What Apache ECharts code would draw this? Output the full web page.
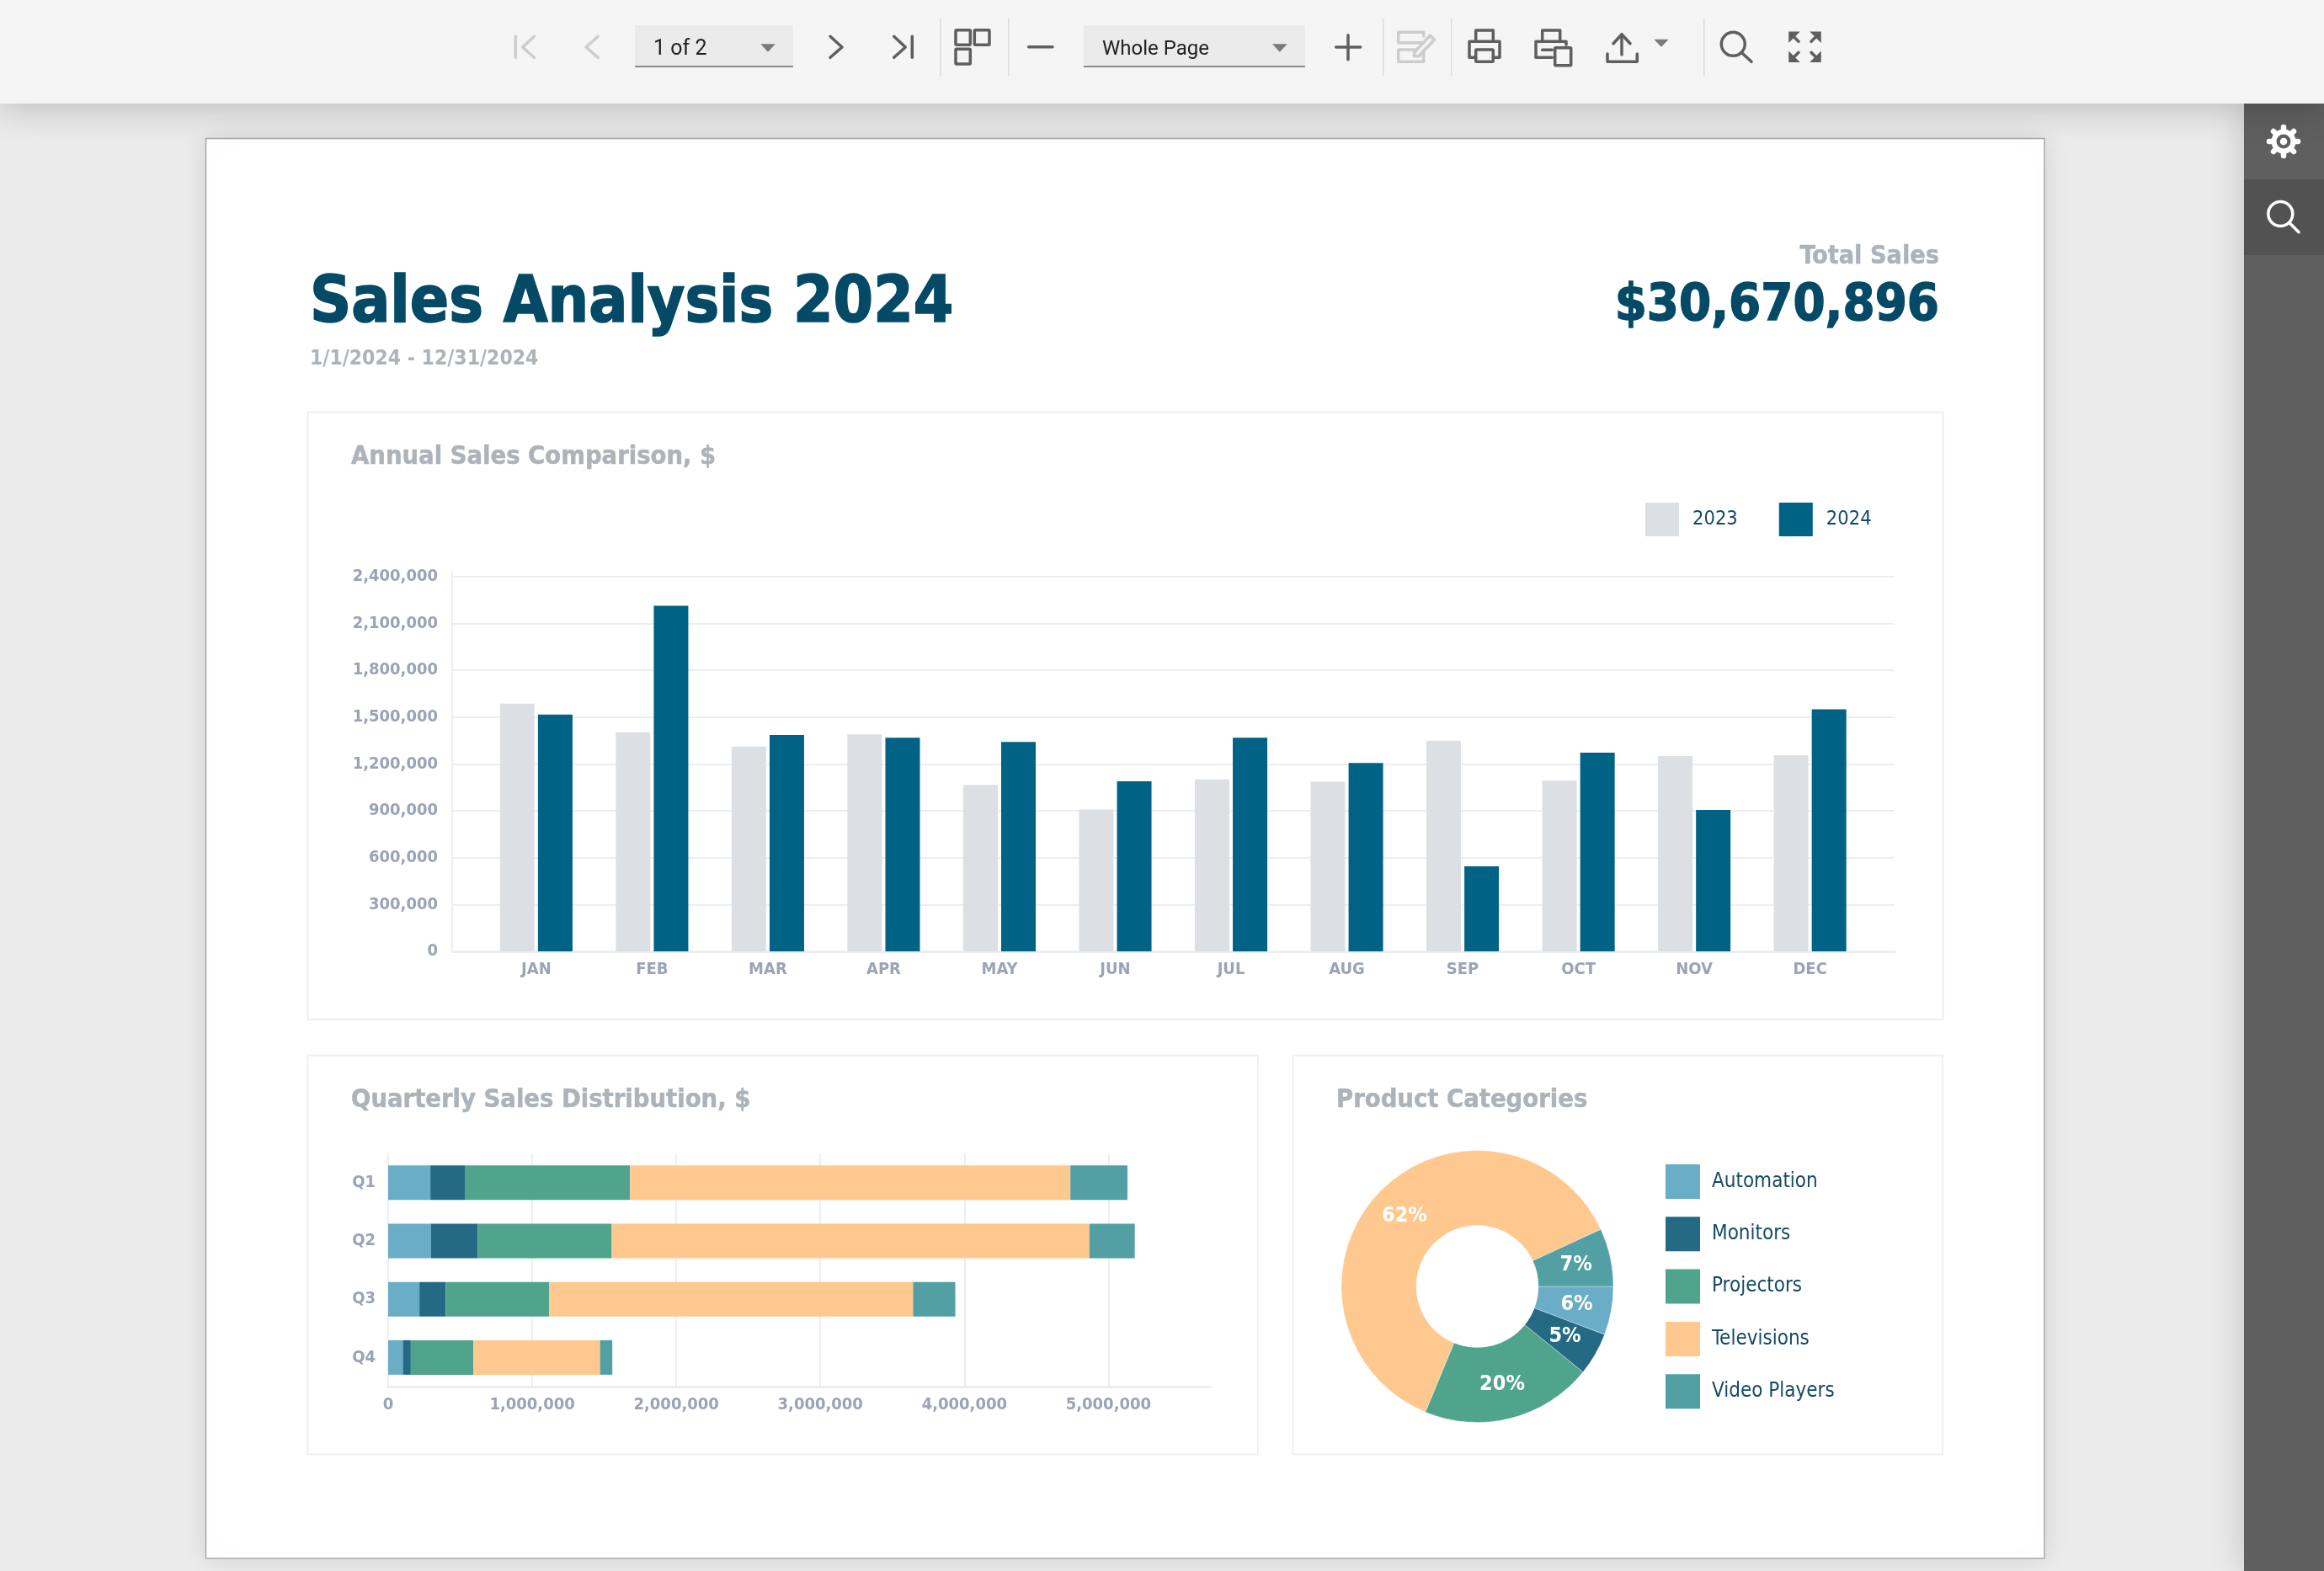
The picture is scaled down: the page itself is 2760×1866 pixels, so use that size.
<!DOCTYPE html>
<html>
<head>
<meta charset="utf-8">
<title>Sales Analysis 2024</title>
<script src="https://cdn.jsdelivr.net/npm/echarts@6/dist/echarts.min.js"></script>
<style>
	html, body { margin: 0; padding: 0; background: #ebebeb; }
	#main { width: 2760px; height: 1866px; }
</style>
</head>
<body>
<div id="main"></div>
<script>
var months = ['JAN', 'FEB', 'MAR', 'APR', 'MAY', 'JUN', 'JUL', 'AUG', 'SEP', 'OCT', 'NOV', 'DEC'];
var sales2023 = [1587000, 1404000, 1312000, 1390000, 1066000, 908000, 1102000, 1086000, 1350000, 1093000, 1251000, 1257000];
var sales2024 = [1517000, 2213000, 1386000, 1368000, 1341000, 1089000, 1368000, 1206000, 545000, 1273000, 906000, 1551000];

var quarters = ['Q1', 'Q2', 'Q3', 'Q4'];
var automation = [293000, 298000, 217000, 102000];
var monitors = [243000, 323000, 183000, 55000];
var projectors = [1143000, 931000, 718000, 434000];
var televisions = [3057000, 3316000, 2526000, 880000];
var videoPlayers = [396000, 315000, 293000, 85000];

var categories = ['Automation', 'Monitors', 'Projectors', 'Televisions', 'Video Players'];
var categoryTotals = [910000, 804000, 3226000, 9779000, 1089000];
var categoryColors = ['#6aadc6', '#246a85', '#51a48c', '#fec88f', '#52a0a3'];

var FONT = '"DejaVu Sans Condensed", "DejaVu Sans", sans-serif';
var UI_FONT = 'Roboto, sans-serif';
var DARK = '#044a66';
var MUTED = '#adb3ba';
var TICK = '#9ba3b5';
var RULE = '#eceef2';
var ICON = '#5f5f5f';
var OFF = '#cdcdcd';

function thousands(v) {
	return String(v).replace(/\B(?=(\d{3})+$)/g, ',');
}

// page chrome helpers, all of it goes into the graphic component
function box(x, y, w, h, fill, extra) {
	var style = { fill: fill };
	for (var k in extra) style[k] = extra[k];
	return { type: 'rect', silent: true, z: -5, shape: { x: x, y: y, width: w, height: h }, style: style };
}
function stroke(points, color, width) {
	return {
		type: 'polyline', silent: true, z: -1, shape: { points: points },
		style: { stroke: color, lineWidth: width || 3.5, fill: null, lineCap: 'round', lineJoin: 'round' }
	};
}
function frame(x, y, w, h, color, width) {
	return {
		type: 'rect', silent: true, z: -1, shape: { x: x, y: y, width: w, height: h, r: 1 },
		style: { stroke: color, lineWidth: width || 3.5, fill: null }
	};
}
function tri(x1, x2, y, tipY) {
	return {
		type: 'polygon', silent: true, z: -1,
		shape: { points: [[x1, y], [x2, y], [(x1 + x2) / 2, tipY]] },
		style: { fill: '#7a7a7a' }
	};
}
function label(text, x, y, size, color, weight, align, family, heavy) {
	var style = {
		text: text, x: x, y: y, fill: color,
		font: (weight || 'normal') + ' ' + size + 'px ' + (family || FONT),
		align: align || 'left', verticalAlign: 'middle'
	};
	// the condensed bold is a little lighter than the original face
	if (heavy) {
		style.stroke = color;
		style.lineWidth = heavy;
	}
	return { type: 'text', silent: true, z: -1, style: style };
}
function magnifier(cx, cy, r, hx, hy, color) {
	return [
		{ type: 'circle', silent: true, z: -1, shape: { cx: cx, cy: cy, r: r }, style: { stroke: color, lineWidth: 3.5, fill: null } },
		stroke([[cx + r * 0.76, cy + r * 0.76], [hx, hy]], color, 3.5)
	];
}
function fullscreenCorner(cornerX, cornerY, dx, dy) {
	return [
		{
			type: 'polygon', silent: true, z: -1,
			shape: { points: [[cornerX, cornerY], [cornerX + dx * 11, cornerY], [cornerX, cornerY + dy * 11]] },
			style: { fill: ICON, stroke: ICON, lineWidth: 1.5 }
		},
		stroke([[cornerX + dx * 3, cornerY + dy * 3], [cornerX + dx * 11, cornerY + dy * 11]], ICON, 3.5)
	];
}
function gear(cx, cy) {
	var parts = [];
	for (var i = 0; i < 8; i++) {
		var a = i * Math.PI / 4;
		parts.push(stroke([[cx + 12 * Math.cos(a), cy + 12 * Math.sin(a)], [cx + 17 * Math.cos(a), cy + 17 * Math.sin(a)]], '#ffffff', 6.5));
	}
	parts.push({ type: 'circle', silent: true, z: -1, shape: { cx: cx, cy: cy, r: 11.5 }, style: { stroke: '#ffffff', lineWidth: 6, fill: null } });
	parts.push({ type: 'circle', silent: true, z: -1, shape: { cx: cx, cy: cy, r: 4.3 }, style: { fill: '#ffffff' } });
	return parts;
}

var chrome = [
	// viewer background, page and panels
	box(244.5, 164.5, 2183.5, 1686.5, '#ffffff', { stroke: '#a9a9a9', lineWidth: 1.5, shadowBlur: 30, shadowColor: 'rgba(0,0,0,0.10)' }),
	box(2665, 123, 95, 1743, '#5f5f5f', { shadowBlur: 40, shadowColor: 'rgba(0,0,0,0.18)' }),
	box(2665, 213, 95, 90, '#525252'),
	box(0, 0, 2760, 123, '#f5f5f5', { shadowBlur: 44, shadowColor: 'rgba(0,0,0,0.22)', shadowOffsetY: 4 }),
	box(365.5, 489.5, 1942, 721.5, '#ffffff', { stroke: '#eef0f4', lineWidth: 2 }),
	box(365.5, 1253.5, 1128.5, 474, '#ffffff', { stroke: '#eef0f4', lineWidth: 2 }),
	box(1535.5, 1253.5, 771.5, 474, '#ffffff', { stroke: '#eef0f4', lineWidth: 2 }),

	// toolbar: page navigation
	stroke([[612.3, 43.3], [612.3, 68.3]], OFF),
	stroke([[634.3, 43.3], [620.7, 56], [634.3, 68.3]], OFF),
	stroke([[710, 43.3], [696, 56], [710, 68.3]], OFF),
	box(754, 30, 188, 49, '#ebebeb'),
	box(754, 78, 188, 2, '#8a8a8a'),
	label('1 of 2', 776, 59, 25, '#222222', 'normal', 'left', UI_FONT),
	tri(903.3, 920.7, 52.3, 61.7),
	stroke([[986, 43.3], [1000, 56], [986, 68.3]], ICON),
	stroke([[1061.7, 43.3], [1075.3, 56], [1061.7, 68.3]], ICON),
	stroke([[1083.3, 43.3], [1083.3, 68.3]], ICON),

	// toolbar: thumbnails and zoom
	box(1116, 22, 1.5, 68, '#dcdcdc'),
	frame(1135, 35.7, 17.3, 17.6, ICON),
	frame(1157.3, 35.7, 17.7, 17.6, ICON),
	frame(1135, 58.3, 17.3, 17.7, ICON),
	box(1197, 22, 1.5, 68, '#dcdcdc'),
	stroke([[1221.7, 55.7], [1250, 55.7]], ICON),
	box(1287, 30, 263, 49, '#ebebeb'),
	box(1287, 78, 263, 2, '#8a8a8a'),
	label('Whole Page', 1309, 59, 24, '#222222', 'normal', 'left', UI_FONT),
	tri(1511, 1528.7, 52.3, 61.7),
	stroke([[1586.7, 56], [1615.7, 56]], ICON),
	stroke([[1601, 41.7], [1601, 70.7]], ICON),
	box(1642, 22, 1.5, 68, '#dcdcdc'),

	// toolbar: edit (disabled)
	stroke([[1690.7, 50.7], [1660.7, 50.7], [1660.7, 38.3], [1690.7, 38.3], [1690.7, 43]], OFF),
	stroke([[1680, 59], [1660.7, 59], [1660.7, 73.3], [1690.7, 73.3], [1690.7, 60]], OFF),
	{
		type: 'polygon', silent: true, z: -1,
		shape: { points: [[1680, 61.7], [1698.3, 42.3], [1703.3, 47.3], [1685, 66.7], [1679.3, 66.7]] },
		style: { stroke: OFF, lineWidth: 3.5, fill: null, lineJoin: 'round' }
	},
	box(1723, 22, 1.5, 68, '#dcdcdc'),

	// toolbar: print
	stroke([[1752.7, 49.3], [1752.7, 36], [1773.3, 36], [1773.3, 49.3]], ICON),
	stroke([[1752.7, 68.3], [1745, 68.3], [1745, 49.3], [1781, 49.3], [1781, 68.3], [1773.3, 68.3]], ICON),
	frame(1752.7, 59, 20.6, 14.3, ICON),

	// toolbar: print page
	stroke([[1831.7, 49.3], [1831.7, 36], [1852.7, 36], [1852.7, 49.3]], ICON),
	stroke([[1843.3, 68.3], [1824, 68.3], [1824, 49.3], [1860, 49.3], [1860, 53.3]], ICON),
	stroke([[1831.7, 59.3], [1843.3, 59.3]], ICON),
	frame(1846.7, 56.7, 19, 21, ICON),

	// toolbar: export
	stroke([[1926, 42], [1926, 65]], ICON),
	stroke([[1916, 51.7], [1926, 40.7], [1936, 51.7]], ICON),
	stroke([[1909, 64], [1909, 73.3], [1944.3, 73.3], [1944.3, 64]], ICON),
	tri(1964.3, 1981.7, 46.7, 55.7),
	box(2023, 22, 1.5, 68, '#dcdcdc')
];
chrome = chrome
	.concat(magnifier(2058.3, 52.3, 14, 2080, 73.3, ICON))
	.concat(fullscreenCorner(2125, 38.3, 1, 1))
	.concat(fullscreenCorner(2162, 38.3, -1, 1))
	.concat(fullscreenCorner(2125, 73.3, 1, -1))
	.concat(fullscreenCorner(2162, 73.3, -1, -1))
	.concat(gear(2712, 168))
	.concat(magnifier(2708.3, 254, 14.5, 2730, 275.7, '#ffffff'));

// report header and panel titles
chrome.push(label('Sales Analysis 2024', 368, 362, 76, DARK, 'bold', 'left', FONT, 1.6));
chrome.push(label('1/1/2024 - 12/31/2024', 368, 427, 24.5, MUTED, 'bold'));
chrome.push(label('Total Sales', 2303, 305, 30.3, MUTED, 'bold', 'right', FONT, 0.5));
chrome.push(label('$30,670,896', 2303, 364, 61, DARK, 'bold', 'right', FONT, 1.4));
chrome.push(label('Annual Sales Comparison, $', 417, 543, 30.6, MUTED, 'bold', 'left', FONT, 0.5));
chrome.push(label('Quarterly Sales Distribution, $', 417, 1307, 30.6, MUTED, 'bold', 'left', FONT, 0.5));
chrome.push(label('Product Categories', 1587, 1307, 30.6, MUTED, 'bold', 'left', FONT, 0.5));

function stackSeries(name, values, color) {
	return {
		name: name, type: 'bar', stack: 'quarter', xAxisIndex: 2, yAxisIndex: 2,
		barWidth: 41, data: values, itemStyle: { color: color }
	};
}

var option = {
	animation: false,
	backgroundColor: '#ebebeb',
	graphic: { elements: chrome },
	legend: [{
		data: ['2023', '2024'],
		left: 1954, top: 597, padding: 0,
		itemWidth: 40, itemHeight: 40, itemGap: 49,
		icon: 'rect', selectedMode: false,
		textStyle: { color: '#154a64', fontFamily: FONT, fontSize: 23.5, padding: [2, 0, 0, 11] }
	}, {
		data: categories,
		orient: 'vertical',
		left: 1978, top: 1383, padding: 0,
		itemWidth: 41, itemHeight: 41, itemGap: 21.3,
		icon: 'rect', selectedMode: false,
		textStyle: { color: '#154a64', fontFamily: FONT, fontSize: 24, padding: [4, 0, 0, 9] }
	}],
	grid: [
		// axes and rules of the annual chart run wider than its bars
		{ left: 537, top: 679, width: 1713, height: 451 },
		{ left: 568.1, top: 679, width: 1650.3, height: 451 },
		{ left: 461, top: 1370, width: 977, height: 277 }
	],
	xAxis: [{
		gridIndex: 0, type: 'category', data: [''],
		axisLine: { lineStyle: { color: RULE, width: 3 } },
		axisTick: { show: false }, axisLabel: { show: false }
	}, {
		gridIndex: 1, type: 'category', data: months,
		axisLine: { show: false }, axisTick: { show: false },
		axisLabel: { color: TICK, fontFamily: FONT, fontWeight: 'bold', fontSize: 20, margin: 12, interval: 0 }
	}, {
		gridIndex: 2, type: 'value', min: 0, max: 5711000, interval: 1000000,
		axisLine: { show: true, lineStyle: { color: RULE, width: 3 } },
		axisTick: { show: false },
		splitLine: { show: true, showMaxLine: false, lineStyle: { color: RULE, width: 2 } },
		axisLabel: { color: TICK, fontFamily: FONT, fontWeight: 'bold', fontSize: 20, margin: 12, showMaxLabel: false, formatter: thousands }
	}],
	yAxis: [{
		gridIndex: 0, type: 'value', min: 0, max: 2432000, interval: 300000,
		axisLine: { show: true, lineStyle: { color: RULE, width: 2 } },
		axisTick: { show: false },
		splitLine: { show: true, showMaxLine: false, lineStyle: { color: RULE, width: 2 } },
		axisLabel: { color: TICK, fontFamily: FONT, fontWeight: 'bold', fontSize: 20, margin: 17, padding: [5, 0, 0, 0], showMaxLabel: false, formatter: thousands }
	}, {
		gridIndex: 1, type: 'value', min: 0, max: 2432000, interval: 300000, show: false
	}, {
		gridIndex: 2, type: 'category', data: quarters, inverse: true,
		axisLine: { lineStyle: { color: RULE, width: 2 } },
		axisTick: { show: false },
		axisLabel: { color: TICK, fontFamily: FONT, fontWeight: 'bold', fontSize: 20, margin: 15, padding: [5, 0, 0, 0] }
	}],
	series: [{
		name: '2023', type: 'bar', xAxisIndex: 1, yAxisIndex: 1,
		barWidth: 41, barGap: '10%', data: sales2023, itemStyle: { color: '#dce0e4' }
	}, {
		name: '2024', type: 'bar', xAxisIndex: 1, yAxisIndex: 1,
		barWidth: 41, barGap: '10%', data: sales2024, itemStyle: { color: '#006285' }
	},
		stackSeries(categories[0], automation, categoryColors[0]),
		stackSeries(categories[1], monitors, categoryColors[1]),
		stackSeries(categories[2], projectors, categoryColors[2]),
		stackSeries(categories[3], televisions, categoryColors[3]),
		stackSeries(categories[4], videoPlayers, categoryColors[4]),
	{
		name: 'Product Categories', type: 'pie',
		center: [1754.5, 1528], radius: [72.5, 161.5],
		startAngle: 0, clockwise: true,
		data: categories.map(function (name, i) {
			return { name: name, value: categoryTotals[i], itemStyle: { color: categoryColors[i] } };
		}),
		itemStyle: { borderColor: 'rgba(255,255,255,0.35)', borderWidth: 1 },
		label: {
			position: 'inside', color: '#ffffff', fontFamily: FONT, fontWeight: 'bold', fontSize: 25,
			padding: [4, 0, 0, 0], textBorderWidth: 0,
			formatter: function (p) { return Math.round(p.percent) + '%'; }
		},
		labelLine: { show: false }
	}]
};

var myChart = echarts.init(document.getElementById('main'));
myChart.setOption(option);
</script>
</body>
</html>
